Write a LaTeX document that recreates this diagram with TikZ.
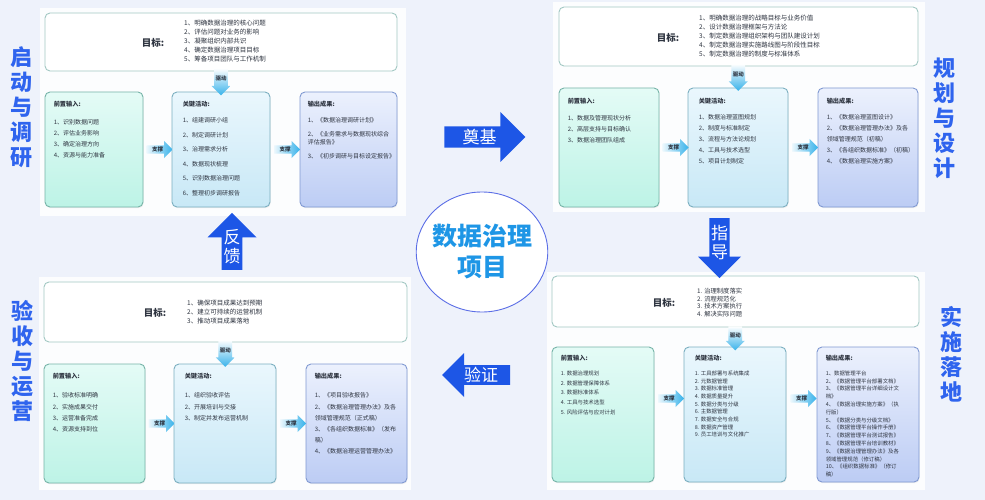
\documentclass[tikz,border=0pt]{standalone}
\usepackage{fontspec}
\setmainfont{Noto Sans CJK SC}
\usepackage{tikz}
\usetikzlibrary{shapes.geometric, shapes.arrows, calc, shadows}

\definecolor{paper}{HTML}{EEF2FB}
\definecolor{ink}{HTML}{2E3440}
\definecolor{goalline}{HTML}{A2C8C3}
\definecolor{inline}{HTML}{76B4A8}
\definecolor{actline}{HTML}{7BAFC0}
\definecolor{outln}{HTML}{8099D2}
\definecolor{mintA}{HTML}{E4FBF6}
\definecolor{mintB}{HTML}{BDF3E6}
\definecolor{skyA}{HTML}{EAF7FD}
\definecolor{skyB}{HTML}{C8E8F6}
\definecolor{lilacA}{HTML}{ECF1FD}
\definecolor{lilacB}{HTML}{BCCCF4}
\definecolor{flowcyan}{HTML}{38B2EA}
\definecolor{bigblue}{HTML}{1D56E6}
\definecolor{sideblue}{HTML}{2F64EE}
\definecolor{ringblue}{HTML}{5B6EE6}
\definecolor{coretext}{HTML}{1E96E6}

\begin{document}
\begin{tikzpicture}
      [x=1pt, y=-1pt,
        panel/.style={fill=white, opacity=.85},
        goal/.style={draw=goalline, fill=white, rounded corners=5pt, line width=.9pt},
        card/.style={rounded corners=5pt, line width=.9pt, minimum width=98, minimum height=115,
          drop shadow={opacity=.12, shadow xshift=.6pt, shadow yshift=-1.2pt}},
        inbox/.style={card, draw=inline, top color=mintA, bottom color=mintB},
        actbox/.style={card, draw=actline, top color=skyA, bottom color=skyB},
        outbox/.style={card, draw=outln, top color=lilacA, bottom color=lilacB},
        goalhead/.style={text=ink, font=\bfseries\fontsize{9.5}{10}\selectfont},
        glist/.style={anchor=west, align=left, inner sep=0pt, text=ink, font=\fontsize{6.5}{#1}\selectfont},
        glist/.default=9,
        boxtitle/.style={anchor=west, inner sep=0pt, text=ink, font=\bfseries\fontsize{6.2}{7}\selectfont},
        lst/.style={anchor=north west, align=left, inner sep=0pt, text=ink, font=\fontsize{6}{#1}\selectfont},
        lst/.default=11,
        drive/.style={single arrow, shape border rotate=270, minimum height=27, minimum width=19,
          single arrow head extend=2.5, inner sep=.5pt, top color=white, bottom color=flowcyan,
          text=ink, font=\bfseries\fontsize{5.5}{6}\selectfont},
        support/.style={single arrow, minimum height=26, minimum width=17, single arrow head extend=3.5,
          inner sep=.5pt, left color=flowcyan!10, right color=flowcyan, text=ink,
          font=\bfseries\fontsize{5.5}{6}\selectfont},
        bigarrow/.style={single arrow, fill=bigblue, text=white, inner sep=1pt, align=center,
          font=\fontsize{17}{19}\selectfont},
        side/.style={align=center, inner sep=0pt, text=sideblue, font=\bfseries\fontsize{22}{25}\selectfont},
        core/.style={ellipse, draw=ringblue, line width=.9pt, fill=white, minimum height=120,
          inner xsep=-3.5pt, inner ysep=2pt, align=center, text=coretext,
          font=\bfseries\fontsize{25}{31}\selectfont}]
    \fill[paper] (0,0) rectangle (985,500);
    \useasboundingbox (0,0) rectangle (985,500);
    % white backing of the four stages
    \fill[panel] (40,8) rectangle (406,216);
    \fill[panel] (553,2) rectangle (925,212);
    \fill[panel] (39,277) rectangle (411,490);
    \fill[panel] (547,272) rectangle (925,490);

    % stage 1, top left
    \node[side] (s1) at (21,107) {启\\动\\与\\调\\研};
    \node[goal, minimum width=352, minimum height=58] (g1) at (221,42) {};
    \node[goalhead] (g1h) at (153,43) {目标:};
    \node[glist] (g1l) at (184,41) {1、明确数据治理的核心问题\\2、评估问题对业务的影响\\3、凝聚组织内部共识\\4、确定数据治理项目目标\\5、筹备项目团队与工作机制};
    \node[inbox] (in1) at (94,149.5) {};
    \node[actbox] (act1) at (221,149.5) {};
    \node[outbox, minimum width=97] (out1) at (348.5,149.5) {};
    \node[boxtitle] (in1t) at ([shift={(9,13)}]in1.north west) {前置输入:};
    \node[boxtitle] (act1t) at ([shift={(11,13)}]act1.north west) {关键活动:};
    \node[boxtitle] (out1t) at ([shift={(8,13)}]out1.north west) {输出成果:};
    \node[lst] (in1l) at ([shift={(9,28)}]in1.north west) {1、识别数据问题\\2、评估业务影响\\3、确定治理方向\\4、资源与能力准备};
    \node[lst=14.5] (act1l) at ([shift={(11,26)}]act1.north west) {1、组建调研小组\\2、制定调研计划\\3、治理需求分析\\4、数据现状梳理\\5、识别数据治理问题\\6、整理初步调研报告};
    \node[lst=7.5] (out1l) at ([shift={(8,26)}]out1.north west) {1、《数据治理调研计划》\\[6.5pt]2、《业务需求与数据现状综合\\评估报告》\\[6.5pt]3、《初步调研与目标设定报告》};
    \node[drive] (d1) at ($(g1.south)!.5!(act1.north)+(0,-3)$) {驱动};
    \node[support] (p1a) at ($(in1.east)!.5!(act1.west)$) {支撑};
    \node[support] (p1b) at ($(act1.east)!.5!(out1.west)$) {支撑};

    % stage 2, top right
    \node[side] (s2) at (944,118) {规\\划\\与\\设\\计};
    \node[goal, minimum width=359, minimum height=59] (g2) at (738.5,36.5) {};
    \node[goalhead] (g2h) at (668,38) {目标:};
    \node[glist=8.8] (g2l) at (699,36) {1、明确数据治理的战略目标与业务价值\\2、设计数据治理框架与方法论\\3、制定数据治理组织架构与团队建设计划\\4、制定数据治理实施路线图与阶段性目标\\5、制定数据治理的制度与标准体系};
    \node[inbox, minimum width=100, minimum height=119] (in2) at (609,147.5) {};
    \node[actbox, minimum width=100, minimum height=119] (act2) at (738,147.5) {};
    \node[outbox, minimum width=100, minimum height=119] (out2) at (868,147.5) {};
    \node[boxtitle] (in2t) at ([shift={(9,14)}]in2.north west) {前置输入:};
    \node[boxtitle] (act2t) at ([shift={(11,14)}]act2.north west) {关键活动:};
    \node[boxtitle] (out2t) at ([shift={(9,14)}]out2.north west) {输出成果:};
    \node[lst] (in2l) at ([shift={(9,28)}]in2.north west) {1、数据及管理现状分析\\2、高层支持与目标确认\\3、数据治理团队组成};
    \node[lst] (act2l) at ([shift={(11,27)}]act2.north west) {1、数据治理蓝图规划\\2、制度与标准制定\\3、流程与方法论规划\\4、工具与技术选型\\5、项目计划制定};
    \node[lst] (out2l) at ([shift={(9,27)}]out2.north west) {1、《数据治理蓝图设计》\\2、《数据治理管理办法》及各\\领域管理规范（初稿）\\3、《各组织数据标准》（初稿）\\4、《数据治理实施方案》};
    \node[drive] (d2) at ($(g2.south)!.5!(act2.north)+(0,-3)$) {驱动};
    \node[support] (p2a) at ($(in2.east)!.5!(act2.west)$) {支撑};
    \node[support] (p2b) at ($(act2.east)!.5!(out2.west)$) {支撑};

    % stage 3, bottom left
    \node[side] (s3) at (22,361) {验\\收\\与\\运\\营};
    \node[goal, minimum width=363, minimum height=60] (g3) at (225.5,312) {};
    \node[goalhead] (g3h) at (155,313) {目标:};
    \node[glist] (g3l) at (187,312) {1、确保项目成果达到预期\\2、建立可持续的运营机制\\3、推动项目成果落地};
    \node[inbox, minimum width=101, minimum height=119] (in3) at (94.5,423.5) {};
    \node[actbox, minimum width=102, minimum height=119] (act3) at (225,423.5) {};
    \node[outbox, minimum width=101, minimum height=119] (out3) at (356.5,423.5) {};
    \node[boxtitle] (in3t) at ([shift={(9,13)}]in3.north west) {前置输入:};
    \node[boxtitle] (act3t) at ([shift={(11,13)}]act3.north west) {关键活动:};
    \node[boxtitle] (out3t) at ([shift={(9,13)}]out3.north west) {输出成果:};
    \node[lst=11.2] (in3l) at ([shift={(9,29)}]in3.north west) {1、验收标准明确\\2、实施成果交付\\3、运营准备完成\\4、资源支持到位};
    \node[lst=11.2] (act3l) at ([shift={(11,29)}]act3.north west) {1、组织验收评估\\2、开展培训与交接\\3、制定并发布运营机制};
    \node[lst=11.2] (out3l) at ([shift={(9,29)}]out3.north west) {1、《项目验收报告》\\2、《数据治理管理办法》及各\\领域管理规范（正式稿）\\3、《各组织数据标准》（发布\\稿）\\4、《数据治理运营管理办法》};
    \node[drive] (d3) at ($(g3.south)!.5!(act3.north)+(0,-3)$) {驱动};
    \node[support] (p3a) at ($(in3.east)!.5!(act3.west)$) {支撑};
    \node[support] (p3b) at ($(act3.east)!.5!(out3.west)$) {支撑};

    % stage 4, bottom right
    \node[side] (s4) at (951,354.5) {实\\施\\落\\地};
    \node[goal, minimum width=367, minimum height=51] (g4) at (735.5,301.5) {};
    \node[goalhead] (g4h) at (664,303) {目标:};
    \node[glist=7.6, font=\fontsize{6.3}{7.6}\selectfont] (g4l) at (697,302.5) {1. 治理制度落实\\2. 流程规范化\\3. 技术方案执行\\4. 解决实际问题};
    \node[inbox, minimum width=102, minimum height=135] (in4) at (603,414.5) {};
    \node[actbox, minimum width=102, minimum height=135] (act4) at (735,414.5) {};
    \node[outbox, minimum width=102, minimum height=135] (out4) at (868,414.5) {};
    \node[boxtitle] (in4t) at ([shift={(9,12)}]in4.north west) {前置输入:};
    \node[boxtitle] (act4t) at ([shift={(11,12)}]act4.north west) {关键活动:};
    \node[boxtitle] (out4t) at ([shift={(9,12)}]out4.north west) {输出成果:};
    \node[lst, font=\fontsize{5.4}{9.75}\selectfont] (in4l) at ([shift={(9,24)}]in4.north west) {1. 数据治理规划\\2. 数据管理保障体系\\3. 数据标准体系\\4. 工具与技术选型\\5. 风险评估与应对计划};
    \node[lst, font=\fontsize{5.4}{7.7}\selectfont] (act4l) at ([shift={(11,24)}]act4.north west) {1. 工具部署与系统集成\\2. 元数据管理\\3. 数据标准管理\\4. 数据质量提升\\5. 数据分类与分级\\6. 主数据管理\\7. 数据安全与合规\\8. 数据资产管理\\9. 员工培训与文化推广};
    \node[lst, font=\fontsize{5.4}{7.8}\selectfont] (out4l) at ([shift={(9,24)}]out4.north west) {1、数据管理平台\\2、《数据管理平台部署文档》\\3、《数据管理平台详细设计文\\档》\\4、《数据治理实施方案》（执\\行版）\\5、《数据分类与分级文档》\\6、《数据管理平台操作手册》\\7、《数据管理平台测试报告》\\8、《数据管理平台培训教材》\\9、《数据治理管理办法》及各\\领域管理规范（修订稿）\\10、《组织数据标准》（修订\\稿）};
    \node[drive, minimum height=24] (d4) at ($(g4.south)!.5!(act4.north)+(0,-2)$) {驱动};
    % the two supports sit above the middle here
    \node[support] (p4a) at ($(in4.east)!.5!(act4.west)+(0,-16)$) {支撑};
    \node[support] (p4b) at ($(act4.east)!.5!(out4.west)+(0,-16)$) {支撑};

    % the project in the middle and the four big arrows
    \node[core] (core) at (482,252) {数据治理\\项目};
    \node[bigarrow, minimum height=81, minimum width=50, single arrow head extend=12] (lay) at (479.5,137) {奠基};
    \node[bigarrow, shape border rotate=270, minimum height=60, minimum width=43, single arrow head extend=11] (guide) at (719.5,243) {指\\导};
    \node[bigarrow, shape border rotate=180, minimum height=68, minimum width=44, single arrow head extend=11] (check) at (481,375) {验证};
    \node[bigarrow, shape border rotate=90, minimum height=57, minimum width=49, single arrow head extend=13] (back) at (232,246.5) {反\\馈};
\end{tikzpicture}
\end{document}
